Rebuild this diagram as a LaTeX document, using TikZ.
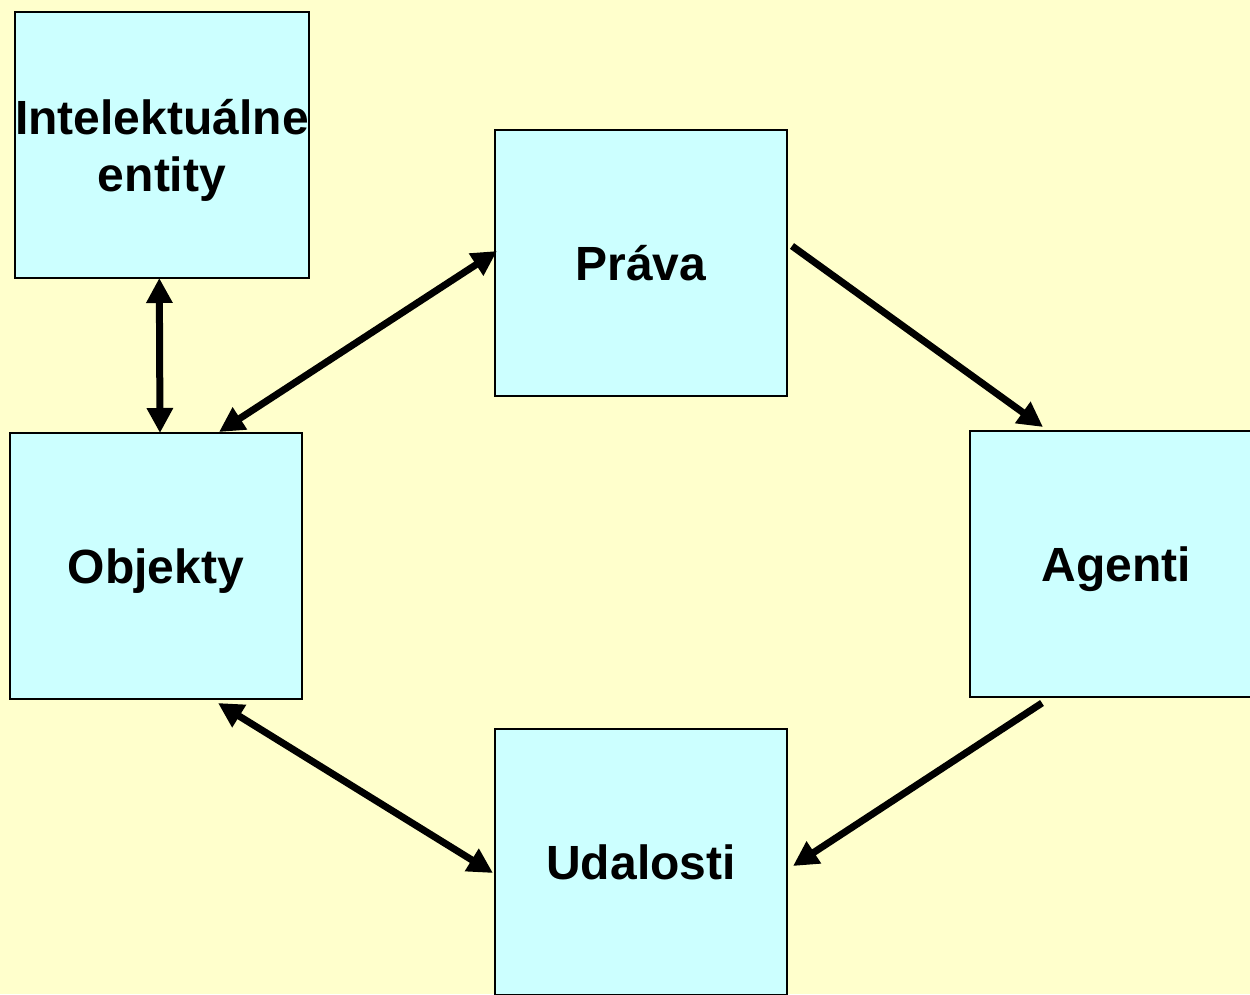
\documentclass[tikz,border=0pt]{standalone}
\usepackage{fontspec}
\setmainfont{Liberation Sans}
\usetikzlibrary{arrows.meta,calc}
\definecolor{bgyellow}{HTML}{FFFFCC}
\definecolor{boxcyan}{HTML}{CCFFFF}
\begin{document}
\begin{tikzpicture}[x=1pt,y=-1pt,
  box/.style={draw=black,line width=2pt,fill=boxcyan,minimum width=292pt,minimum height=266pt,
    inner sep=0pt,outer sep=0pt,align=center,text depth=0pt,font=\fontsize{48}{57}\selectfont\bfseries},
  oneline/.style={text height=34pt},
  conn/.style={line width=7pt,-{Triangle[length=25pt,width=25pt]}},
  biconn/.style={line width=7pt,{Triangle[length=25pt,width=25pt]}-{Triangle[length=25pt,width=25pt]}}]
\useasboundingbox (0,0) rectangle (1250,994);
\clip (0,0) rectangle (1250,994);
\fill[bgyellow] (0,0) rectangle (1250,994);
\node[box] (int) at (162,145) {Intelektuálne\\entity};
\node[box,oneline] (pr) at (641,263) {Práva};
\node[box,oneline] (obj) at (156,566) {Objekty};
\node[box,oneline] (ag) at (1116,564) {Agenti};
\node[box,oneline] (ud) at (641,862) {Udalosti};
\draw[biconn] ($(int.south west)+(144,0)$) -- ($(obj.north west)+(150,0)$);
\draw[biconn] ($(obj.north west)+(209,-1)$) -- ($(pr.west)+(2,-12)$);
\draw[conn] ($(pr.east)+(5,-17)$) -- ($(ag.north west)+(73,-4)$);
\draw[conn] ($(ag.south west)+(72,6)$) -- ($(ud.east)+(6,4)$);
\draw[biconn] ($(obj.south west)+(208,4)$) -- ($(ud.west)+(-2,11)$);
\end{tikzpicture}
\end{document}
